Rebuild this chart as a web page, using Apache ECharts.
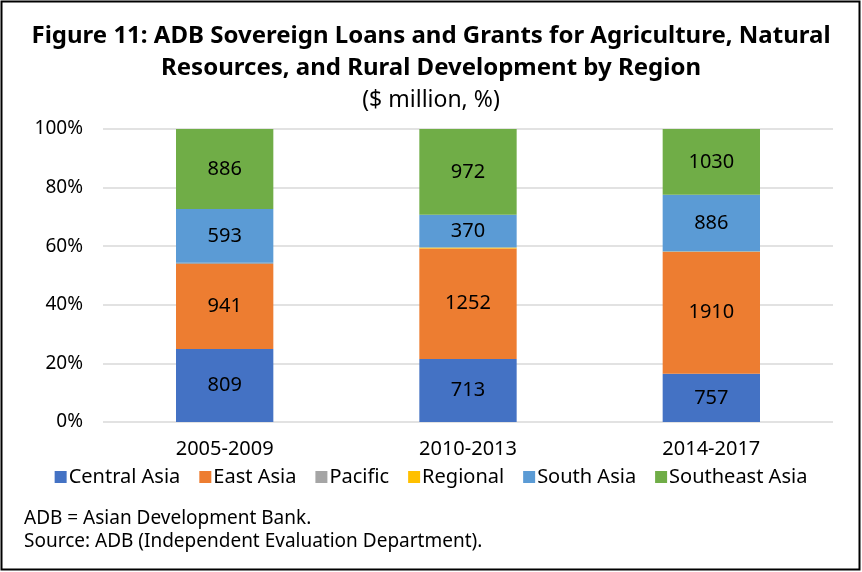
<!DOCTYPE html>
<html><head><meta charset="utf-8">
<script src="https://cdn.jsdelivr.net/npm/echarts@6/dist/echarts.min.js"></script>
<style>html,body{margin:0;padding:0;background:#fff}#c{width:862px;height:572px}</style>
</head><body><div id="c"></div>
<script>
const categories = ['2005-2009', '2010-2013', '2014-2017'];
const centralAsia = [809, 713, 757];
const eastAsia = [941, 1252, 1910];
const pacific = [14, 0, 0];
const regional = [0, 12, 4];
const southAsia = [593, 370, 886];
const southeastAsia = [886, 972, 1030];
const yTicks = ['0%', '20%', '40%', '60%', '80%', '100%'];

const seriesDefs = [
  {name: 'Central Asia', data: centralAsia, color: '#4472C4', label: true},
  {name: 'East Asia', data: eastAsia, color: '#ED7D31', label: true},
  {name: 'Pacific', data: pacific, color: '#A5A5A5', label: false},
  {name: 'Regional', data: regional, color: '#FFC000', label: false},
  {name: 'South Asia', data: southAsia, color: '#5B9BD5', label: true},
  {name: 'Southeast Asia', data: southeastAsia, color: '#70AD47', label: true}
];
const totals = categories.map((_, i) => seriesDefs.reduce((s, d) => s + d.data[i], 0));
const FONT = 'Noto Sans';
const chart = echarts.init(document.getElementById('c'), null, {renderer: 'canvas'});
chart.setOption({
  backgroundColor: '#fff',
  animation: false,
  title: [
    {text: 'Figure 11: ADB Sovereign Loans and Grants for Agriculture, Natural\nResources, and Rural Development by Region',
     left: 'center', top: 15,
     textStyle: {fontFamily: FONT, fontSize: 24, fontWeight: 'bold', color: '#000', lineHeight: 32, align: 'center'}},
    {text: '($ million, %)', left: 'center', top: 84,
     textStyle: {fontFamily: FONT, fontSize: 23, fontWeight: 'normal', color: '#000'}}
  ],
  legend: {
    bottom: 80, left: 'center', itemWidth: 12, itemHeight: 12, itemGap: 19,
    icon: 'rect',
    textStyle: {fontFamily: FONT, fontSize: 20, color: '#000', padding: [0, 0, 0, -3]},
    data: seriesDefs.map(d => d.name)
  },
  grid: {left: 103, right: 29, top: 129, bottom: 150},
  xAxis: {
    type: 'category', data: categories,
    axisLine: {show: false}, axisTick: {show: false},
    axisLabel: {fontFamily: FONT, fontSize: 20, color: '#000', margin: 17}
  },
  yAxis: {
    type: 'value', min: 0, max: 100, interval: 20,
    axisLabel: {fontFamily: FONT, fontSize: 19, color: '#000', margin: 20,
      formatter: v => yTicks[Math.round(v / 20)]},
    splitLine: {lineStyle: {color: '#D9D9D9', width: 1.5}},
    axisLine: {show: false}, axisTick: {show: false}
  },
  series: seriesDefs.map(d => ({
    name: d.name, type: 'bar', stack: 'total', barWidth: '40%',
    itemStyle: {color: d.color},
    data: d.data.map((v, i) => v / totals[i] * 100),
    label: {show: d.label, position: 'inside', fontFamily: FONT, fontSize: 20, color: '#000',
      formatter: p => String(d.data[p.dataIndex])}
  })),
  graphic: [
    {type: 'rect', shape: {x: 1.5, y: 1.5, width: 858, height: 568}, style: {fill: 'none', stroke: '#000', lineWidth: 2}, silent: true},
    {type: 'text', left: 24, top: 509, style: {text: 'ADB = Asian Development Bank.', font: '19px "Noto Sans"', fill: '#000'}},
    {type: 'text', left: 24, top: 532, style: {text: 'Source: ADB (Independent Evaluation Department).', font: '19px "Noto Sans"', fill: '#000'}}
  ]
});
</script></body></html>
